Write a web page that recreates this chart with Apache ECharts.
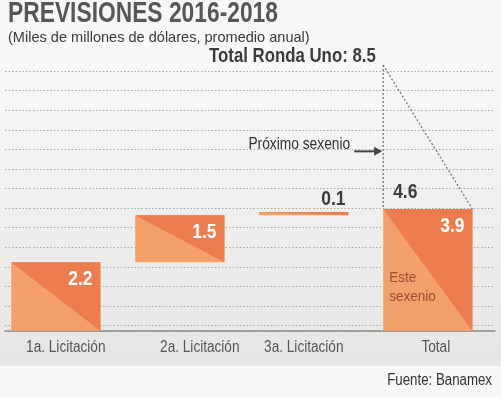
<!DOCTYPE html>
<html>
<head>
<meta charset="utf-8">
<script src="https://cdn.jsdelivr.net/npm/echarts@6/dist/echarts.min.js"></script>
<style>
  html, body { margin: 0; padding: 0; background: #f7f7f5; }
  #chart { width: 501px; height: 397px; }
</style>
</head>
<body>
<div id="chart"></div>
<script>
// data
var categories = ['1a. Licitación', '2a. Licitación', '3a. Licitación', 'Total'];
var licitaciones = [2.2, 1.5, 0.1];
var esteSexenio = 3.9;
var proximoSexenio = 4.6;
var totalRondaUno = 8.5;

var FONT = "'Liberation Sans', Arial, sans-serif";
var LIGHT = '#f3a06d';
var DARK = '#ec7d4f';
var INK = '#3c3c3c';
var BG = '#f7f7f5';

// narrow newspaper type: plain font squeezed sideways
function narrowText(x, y, text, size, opts) {
    opts = opts || {};
    return {
        type: 'text', x: x, y: y, scaleX: opts.sx || 0.8, z2: 10,
        style: {
            text: text,
            fill: opts.color || INK,
            font: (opts.bold ? 'bold ' : '') + size + 'px ' + FONT,
            align: opts.align || 'left',
            verticalAlign: 'middle',
            lineHeight: opts.lineHeight,
            backgroundColor: opts.bg,
            padding: opts.padding
        }
    };
}

// waterfall steps: [category index, from, to]
var steps = [];
var acc = 0;
licitaciones.forEach(function (v, i) {
    steps.push([i, acc, acc + v]);
    acc += v;
});
steps.push([3, 0, esteSexenio]);

var labelShift = [10, 20, 0, 8];

function renderStep(params, api) {
    var cat = api.value(0), lo = api.value(1), hi = api.value(2);
    var pb = api.coord([cat, lo]);
    var pt = api.coord([cat, hi]);
    var p0 = api.coord([cat, 0]);
    var w = api.size([1, 0])[0] * 0.72;
    var x0 = pb[0] - w / 2, x1 = pb[0] + w / 2;
    var h = Math.max(pb[1] - pt[1], 3);
    var yt = pb[1] - h;
    var txt = (hi - lo).toFixed(1);
    var kids = [
        { type: 'rect', shape: { x: x0, y: yt, width: w, height: h }, style: { fill: LIGHT } },
        { type: 'polygon', shape: { points: [[x0, yt], [x1, yt], [x1, yt + h]] }, style: { fill: DARK } }
    ];
    if (h > 20) {
        kids.push(narrowText(x1 - 8, yt + 17, txt, 21, { bold: true, color: '#fff', align: 'right', sx: 0.83 }));
    } else {
        kids.push(narrowText(x1 - 3, yt - 13, txt, 21, { bold: true, align: 'right', sx: 0.83 }));
    }
    if (cat === categories.length - 1) {
        kids.push(narrowText(x0 + 6, yt + h * 0.64, 'Este\nsexenio', 15,
            { color: '#9a5030', lineHeight: 19, sx: 0.9 }));
    }
    kids.push(narrowText(p0[0] + labelShift[cat], p0[1] + 17, categories[cat], 16,
        { color: '#555', align: 'center', sx: 0.85 }));
    return { type: 'group', children: kids };
}

function renderNext(params, api) {
    var cat = api.value(0), lo = api.value(1), hi = api.value(2);
    var pb = api.coord([cat, lo]);
    var pt = api.coord([cat, hi]);
    var w = api.size([1, 0])[0] * 0.72;
    var x0 = pb[0] - w / 2, x1 = pb[0] + w / 2;
    var ya = api.coord([cat, lo + (hi - lo) * 0.4])[1];
    var dash = { stroke: '#6b7b8c', lineWidth: 1.3, lineDash: [2, 2] };
    return { type: 'group', children: [
        { type: 'line', shape: { x1: x0, y1: pt[1], x2: x0, y2: pb[1] }, style: dash },
        { type: 'line', shape: { x1: x0, y1: pt[1], x2: x1, y2: pb[1] }, style: dash },
        narrowText(x0 + 10, pb[1] - 17, (hi - lo).toFixed(1), 21, { bold: true, sx: 0.83 }),
        narrowText(x0 - 5, pt[1] - 9, 'Total Ronda Uno: ' + hi, 21,
            { bold: true, align: 'right', sx: 0.8, bg: BG, lineHeight: 14, padding: [0, 3, 9, 4] }),
        narrowText(x0 - 33, ya - 7, 'Próximo sexenio', 16, { color: '#333', align: 'right', sx: 0.86 }),
        { type: 'line', shape: { x1: x0 - 29, y1: ya, x2: x0 - 7, y2: ya }, style: { stroke: '#444', lineWidth: 2 } },
        { type: 'polygon', shape: { points: [[x0 - 9, ya - 4.5], [x0 - 1, ya], [x0 - 9, ya + 4.5]] }, style: { fill: '#444' } }
    ] };
}

var chart = echarts.init(document.getElementById('chart'));

var option = {
    backgroundColor: BG,
    animation: false,
    graphic: [
        { type: 'rect', z: -10, silent: true, shape: { x: 0, y: 60, width: 501, height: 306 },
          style: { fill: new echarts.graphic.LinearGradient(0, 0, 0, 1, [
              { offset: 0, color: '#f8f8f6' }, { offset: 1, color: '#e6e6e4' }]) } },
        narrowText(8, 14, 'PREVISIONES 2016-2018', 30, { bold: true, color: '#575757', sx: 0.76 }),
        narrowText(8, 38, '(Miles de millones de dólares, promedio anual)', 15, { color: '#3a3a3a', sx: 0.97 }),
        narrowText(492, 381, 'Fuente: Banamex', 16, { color: '#333', align: 'right', sx: 0.83 })
    ],
    grid: [
        { left: 0, right: 5, top: 65, bottom: 66 },
        { left: 5, right: 6, top: 71, bottom: 66 }
    ],
    xAxis: [
        { type: 'value', gridIndex: 0, min: -0.45, max: 3.55, show: false },
        { type: 'value', gridIndex: 1, min: 0, max: 1,
          axisLine: { show: true, onZero: false, lineStyle: { color: '#8a8a8a', width: 1.5, type: [2, 1] } },
          axisTick: { show: false }, axisLabel: { show: false }, splitLine: { show: false } }
    ],
    yAxis: [
        { type: 'value', gridIndex: 0, min: 0, max: totalRondaUno, show: false, splitLine: { show: false } },
        { type: 'value', gridIndex: 1, min: 0, max: 13.27, interval: 1, inverse: true,
          axisLine: { show: false }, axisTick: { show: false }, axisLabel: { show: false },
          splitLine: { show: true, lineStyle: { color: '#a8a8a8', width: 1, type: [1.5, 2] } } }
    ],
    series: [
        { type: 'custom', xAxisIndex: 0, yAxisIndex: 0, renderItem: renderStep, data: steps, z: 5 },
        { type: 'custom', xAxisIndex: 0, yAxisIndex: 0, renderItem: renderNext,
          data: [[3, esteSexenio, totalRondaUno]], z: 4 }
    ]
};

chart.setOption(option);
</script>
</body>
</html>
